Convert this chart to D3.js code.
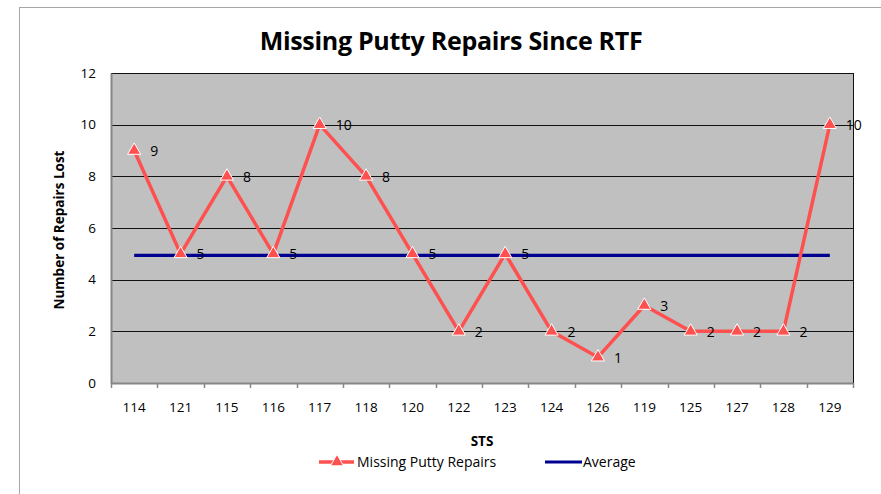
<!DOCTYPE html>
<html>
<head>
<meta charset="utf-8">
<script src="https://cdn.jsdelivr.net/npm/d3@7"></script>
<style>
  body { margin: 0; background: #fff; }
  text { font-family: "Open Sans", sans-serif; fill: #000; }
</style>
</head>
<body>
<div id="chart"></div>
<script>
const categories = ['114', '121', '115', '116', '117', '118', '120', '122', '123', '124', '126', '119', '125', '127', '128', '129'];
const repairs = [9, 5, 8, 5, 10, 8, 5, 2, 5, 2, 1, 3, 2, 2, 2, 10];
const average = [4.94, 4.94, 4.94, 4.94, 4.94, 4.94, 4.94, 4.94, 4.94, 4.94, 4.94, 4.94, 4.94, 4.94, 4.94, 4.94];
const yTicks = [0, 2, 4, 6, 8, 10, 12];

const w = 881;
const h = 494;
const plot = { left: 111, top: 73, right: 853, bottom: 383 };

const svg = d3.select('#chart')
    .append('svg')
    .attr('width', w)
    .attr('height', h);

// outer chart border
svg.append('rect')
    .attr('x', 19.5)
    .attr('y', 7.5)
    .attr('width', 1000)
    .attr('height', 1000)
    .attr('fill', '#fff')
    .attr('stroke', '#a6a6a6');

// Scales
const xScale = d3.scaleBand()
    .domain(categories)
    .range([plot.left, plot.right])
    .padding(0);

const yScale = d3.scaleLinear()
    .domain([0, 12])
    .range([plot.bottom, plot.top]);

const cx = d => xScale(d) + xScale.bandwidth() / 2;

// plot background
svg.append('rect')
    .attr('x', plot.left)
    .attr('y', plot.top)
    .attr('width', plot.right - plot.left)
    .attr('height', plot.bottom - plot.top)
    .attr('fill', '#c0c0c0');

// gridlines
svg.append('g')
    .selectAll('line')
    .data(yTicks.filter(t => t > 0))
    .enter()
    .append('line')
    .attr('x1', plot.left)
    .attr('x2', plot.right)
    .attr('y1', d => Math.round(yScale(d)) + 0.5)
    .attr('y2', d => Math.round(yScale(d)) + 0.5)
    .attr('stroke', '#111')
    .attr('stroke-width', 1);

// right frame
svg.append('line')
    .attr('x1', plot.right + 0.5)
    .attr('x2', plot.right + 0.5)
    .attr('y1', plot.top)
    .attr('y2', plot.bottom)
    .attr('stroke', '#111');

// Axes
const yAxis = d3.axisLeft(yScale).tickValues(yTicks).tickSize(0).tickPadding(15);
const gy = svg.append('g')
    .attr('transform', `translate(${plot.left}, 0)`)
    .call(yAxis);
gy.select('.domain').attr('stroke', '#868686').attr('stroke-width', 2);
gy.selectAll('text').style('font-size', '13.5px').style('font-family', '"Open Sans", sans-serif');

const xAxis = d3.axisBottom(xScale).tickSize(0).tickPadding(19);
const gx = svg.append('g')
    .attr('transform', `translate(0, ${plot.bottom})`)
    .call(xAxis);
gx.select('.domain').attr('stroke', '#868686').attr('stroke-width', 2);
gx.selectAll('text').style('font-size', '13.5px').style('font-family', '"Open Sans", sans-serif');

// category boundary ticks
svg.append('g')
    .selectAll('line')
    .data(categories.concat(['end']))
    .enter()
    .append('line')
    .attr('x1', (d, i) => Math.round(plot.left + i * xScale.bandwidth()) + 0.5)
    .attr('x2', (d, i) => Math.round(plot.left + i * xScale.bandwidth()) + 0.5)
    .attr('y1', plot.bottom)
    .attr('y2', plot.bottom + 5)
    .attr('stroke', '#868686')
    .attr('stroke-width', 1.5);

// Average line
const line = d3.line()
    .x((d, i) => cx(categories[i]))
    .y(d => yScale(d));

svg.append('path')
    .datum(average)
    .attr('d', line)
    .attr('fill', 'none')
    .attr('stroke', '#000090')
    .attr('stroke-width', 3.2);

// Repairs line
svg.append('path')
    .datum(repairs)
    .attr('d', line)
    .attr('fill', 'none')
    .attr('stroke', '#ff5050')
    .attr('stroke-width', 3.5)
    .attr('stroke-linejoin', 'round');

const tri = d3.symbol().type(d3.symbolTriangle).size(75);

svg.append('g')
    .selectAll('path')
    .data(repairs)
    .enter()
    .append('path')
    .attr('d', tri)
    .attr('transform', (d, i) => `translate(${cx(categories[i])}, ${yScale(d)})`)
    .attr('fill', '#ff5050')
    .attr('stroke', '#fff')
    .attr('stroke-width', 1);

// data labels
svg.append('g')
    .selectAll('text')
    .data(repairs)
    .enter()
    .append('text')
    .attr('x', (d, i) => cx(categories[i]) + 16)
    .attr('y', d => yScale(d) + 5.5)
    .style('font-size', '14px')
    .text(d => d);

// Title
svg.append('text')
    .attr('x', 451)
    .attr('y', 50)
    .attr('text-anchor', 'middle')
    .style('font-size', '25px')
    .style('font-weight', 'bold')
    .style('letter-spacing', '-0.3px')
    .text('Missing Putty Repairs Since RTF');

// Axis titles
svg.append('text')
    .attr('transform', 'translate(64, 230) rotate(-90)')
    .attr('text-anchor', 'middle')
    .style('font-size', '13.5px')
    .style('font-weight', 'bold')
    .text('Number of Repairs Lost');

svg.append('text')
    .attr('x', 482)
    .attr('y', 446)
    .attr('text-anchor', 'middle')
    .style('font-size', '13.5px')
    .style('font-weight', 'bold')
    .text('STS');

// Legend
const legend = svg.append('g').attr('id', 'legend');

legend.append('line')
    .attr('x1', 319).attr('x2', 354)
    .attr('y1', 462).attr('y2', 462)
    .attr('stroke', '#ff5050')
    .attr('stroke-width', 3.5);

legend.append('path')
    .attr('d', tri)
    .attr('transform', 'translate(337, 462)')
    .attr('fill', '#ff5050')
    .attr('stroke', '#fff')
    .attr('stroke-width', 1);

legend.append('text')
    .attr('x', 357)
    .attr('y', 467)
    .style('font-size', '14px')
    .text('Missing Putty Repairs');

legend.append('line')
    .attr('x1', 545).attr('x2', 582)
    .attr('y1', 462).attr('y2', 462)
    .attr('stroke', '#000090')
    .attr('stroke-width', 3.2);

legend.append('text')
    .attr('x', 583)
    .attr('y', 467)
    .style('font-size', '14px')
    .text('Average');
</script>
</body>
</html>
